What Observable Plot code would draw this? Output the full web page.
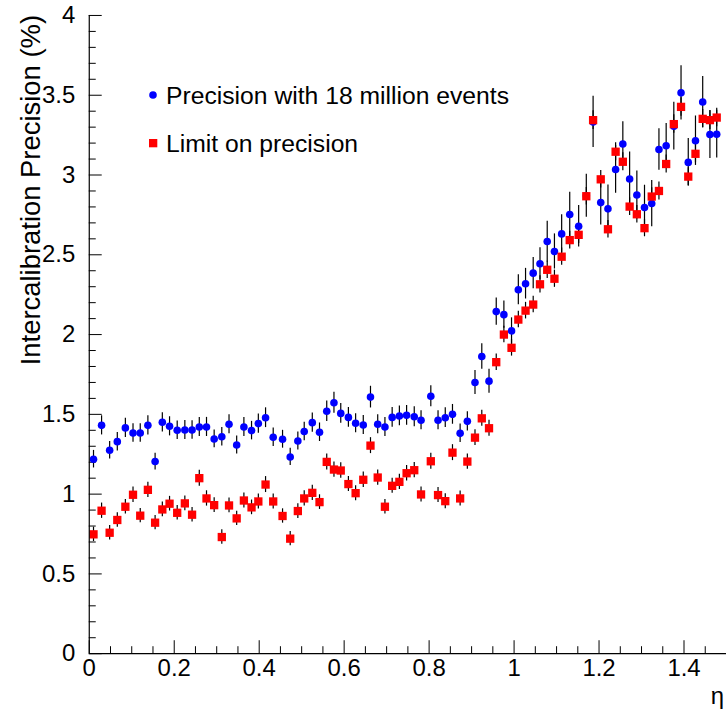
<!DOCTYPE html>
<html><head><meta charset="utf-8">
<script src="https://cdn.jsdelivr.net/npm/d3@7"></script>
<script src="https://cdn.jsdelivr.net/npm/@observablehq/plot@0.6"></script>
<style>
html,body{margin:0;padding:0;background:#fff;overflow:hidden}
#wrap{position:relative;width:726px;height:711px;overflow:hidden}
.leg{position:absolute;font-family:"Liberation Sans",Arial,sans-serif;font-size:24.7px;color:#000;white-space:nowrap;line-height:1}
.leg svg{position:absolute;left:0;top:0}
</style></head><body><div id="wrap"></div>
<script>
// pseudorapidity of each crystal ring
const eta = [
0.010,0.029,0.048,0.066,0.085,0.103,0.120,0.138,0.155,0.172,
0.189,0.207,0.225,0.242,0.259,0.276,0.294,0.312,0.329,0.347,
0.364,0.382,0.398,0.415,0.433,0.455,0.473,0.491,0.506,0.525,
0.542,0.559,0.576,0.592,0.610,0.627,0.645,0.662,0.679,0.696,
0.713,0.730,0.747,0.765,0.781,0.804,0.821,0.838,0.855,0.873,
0.890,0.908,0.924,0.941,0.958,0.976,0.994,1.010,1.027,1.045,
1.061,1.078,1.095,1.112,1.131,1.152,1.170,1.186,1.204,1.221,
1.239,1.256,1.272,1.289,1.307,1.324,1.341,1.358,1.376,1.393,
1.410,1.427,1.444,1.461,1.477];
// Precision with 18 million events (%)
const precision = [
1.219,1.431,1.275,1.329,1.415,1.383,1.383,1.431,1.204,1.450,
1.425,1.400,1.402,1.402,1.421,1.421,1.346,1.360,1.438,1.308,
1.421,1.398,1.442,1.479,1.356,1.344,1.233,1.333,1.392,1.448,
1.388,1.519,1.573,1.506,1.481,1.444,1.433,1.608,1.438,1.421,
1.481,1.490,1.494,1.485,1.463,1.613,1.463,1.479,1.500,1.381,
1.456,1.700,1.863,1.708,2.144,2.125,2.023,2.281,2.319,2.385,
2.444,2.583,2.521,2.631,2.752,2.679,2.870,3.333,2.827,2.788,
3.035,3.194,2.975,2.875,2.796,2.821,3.160,3.183,3.306,3.515,
3.079,3.215,3.458,3.254,3.256];
const precisionErr = [
0.055,0.060,0.055,0.058,0.060,0.058,0.058,0.060,0.052,0.060,
0.060,0.058,0.060,0.058,0.060,0.060,0.056,0.058,0.060,0.056,
0.060,0.058,0.060,0.062,0.058,0.056,0.054,0.056,0.058,0.060,
0.058,0.064,0.066,0.062,0.062,0.060,0.060,0.068,0.060,0.060,
0.062,0.062,0.062,0.062,0.060,0.066,0.060,0.062,0.062,0.058,
0.060,0.075,0.080,0.075,0.085,0.085,0.082,0.094,0.096,0.098,
0.100,0.128,0.110,0.120,0.140,0.130,0.135,0.160,0.140,0.150,
0.150,0.140,0.170,0.150,0.140,0.145,0.130,0.140,0.150,0.170,
0.150,0.155,0.160,0.150,0.150];
// Limit on precision (%)
const limit = [
0.748,0.896,0.758,0.838,0.921,0.996,0.865,1.027,0.821,0.904,
0.940,0.883,0.942,0.871,1.100,0.973,0.931,0.731,0.929,0.848,
0.960,0.917,0.954,1.060,0.954,0.863,0.721,0.894,0.973,1.008,
0.950,1.202,1.154,1.148,1.063,1.006,1.090,1.304,1.104,0.921,
1.052,1.077,1.131,1.150,0.998,1.206,0.994,0.956,1.260,0.973,
1.204,1.354,1.475,1.413,1.827,2.000,1.917,2.094,2.150,2.188,
2.315,2.406,2.350,2.488,2.592,2.625,2.867,3.344,2.973,2.660,
3.146,3.083,2.802,2.754,2.667,2.865,2.900,3.069,3.319,3.427,
2.990,3.133,3.352,3.344,3.360];
const limitErr = [
0.045,0.048,0.045,0.045,0.046,0.048,0.045,0.048,0.045,0.046,
0.046,0.045,0.046,0.045,0.050,0.048,0.046,0.045,0.046,0.045,
0.047,0.046,0.047,0.050,0.047,0.045,0.045,0.046,0.048,0.048,
0.046,0.050,0.048,0.048,0.047,0.047,0.048,0.050,0.048,0.046,
0.047,0.048,0.048,0.048,0.047,0.050,0.047,0.047,0.050,0.047,
0.048,0.050,0.050,0.050,0.052,0.052,0.052,0.052,0.052,0.052,
0.054,0.054,0.054,0.054,0.055,0.055,0.055,0.058,0.055,0.055,
0.056,0.056,0.055,0.055,0.054,0.055,0.056,0.056,0.058,0.058,
0.056,0.057,0.058,0.058,0.058];
const xMajorTicks = [0,0.2,0.4,0.6,0.8,1,1.2,1.4];
const xMinorTicks = [0.05,0.1,0.15,0.25,0.3,0.35,0.45,0.5,0.55,0.65,0.7,0.75,0.85,0.9,0.95,1.05,1.1,1.15,1.25,1.3,1.35,1.45];
const yMajorTicks = [0,0.5,1,1.5,2,2.5,3,3.5,4];
const yMinorTicks = [0.1,0.2,0.3,0.4,0.6,0.7,0.8,0.9,1.1,1.2,1.3,1.4,1.6,1.7,1.8,1.9,2.1,2.2,2.3,2.4,2.6,2.7,2.8,2.9,3.1,3.2,3.3,3.4,3.6,3.7,3.8,3.9];
const seriesNames = ["Precision with 18 million events","Limit on precision"];
const xTitle = "η";
const yTitle = "Intercalibration Precision (%)";

const blue = eta.map((e,i)=>({eta:e, v:precision[i], err:precisionErr[i]}));
const red = eta.map((e,i)=>({eta:e, v:limit[i], err:limitErr[i]}));
const font = '"Liberation Sans", Arial, Helvetica, sans-serif';

const chart = Plot.plot({
  width: 728, height: 711,
  marginLeft: 89, marginRight: 0, marginTop: 15, marginBottom: 56,
  style: {fontFamily: font, fontSize: "24px", background: "white", overflow: "visible"},
  x: {domain: [0, 1.5]},
  y: {domain: [0, 4]},
  marks: [
    Plot.axisX({ticks: xMinorTicks, tickSize: -7, tickFormat: () => "", label: null}),
    Plot.axisX({ticks: xMajorTicks, tickSize: -13, tickFormat: () => "", label: null}),
    Plot.axisX({ticks: xMajorTicks, tickSize: 0, tickPadding: 5, tickFormat: d => String(d), label: null, fontSize: 24}),
    Plot.axisY({ticks: yMinorTicks, tickSize: -7, tickFormat: () => "", label: null}),
    Plot.axisY({ticks: yMajorTicks, tickSize: -13, tickFormat: () => "", label: null}),
    Plot.axisY({ticks: yMajorTicks, tickSize: 0, tickPadding: 14, tickFormat: d => String(d), label: null, fontSize: 24}),
    Plot.ruleX(blue, {x: "eta", y1: d => d.v - d.err, y2: d => d.v + d.err, stroke: "#000", strokeWidth: 1.2}),
    Plot.ruleX(red, {x: "eta", y1: d => d.v - d.err, y2: d => d.v + d.err, stroke: "#000", strokeWidth: 1.2}),
    Plot.dot(blue, {x: "eta", y: "v", r: 3.8, fill: "#0000ff"}),
    Plot.dot(red, {x: "eta", y: "v", symbol: "square", r: 4.7, fill: "#ff0000"}),
    Plot.ruleX([0], {stroke: "#000", strokeWidth: 1.2}),
    Plot.ruleY([0], {stroke: "#000", strokeWidth: 1.2})
  ]
});

const svg = d3.select(chart);
svg.append("text")
  .attr("transform", "translate(40,15) rotate(-90)")
  .attr("text-anchor", "end")
  .attr("font-family", font)
  .attr("font-size", 27.5)
  .attr("fill", "#000")
  .text(yTitle);
svg.append("text")
  .attr("x", 726).attr("y", 706)
  .attr("text-anchor", "end")
  .attr("font-family", font)
  .attr("font-size", 24)
  .attr("fill", "#000")
  .text(xTitle);

const wrap = document.getElementById("wrap");
wrap.appendChild(chart);

function legendItem(top, name, shape) {
  const d = document.createElement("div");
  d.className = "leg";
  d.style.left = "146px";
  d.style.top = top + "px";
  d.innerHTML = `<svg width="16" height="24" viewBox="0 0 16 24">${shape}</svg><span style="position:absolute;left:20px;top:0">${name}</span>`;
  wrap.appendChild(d);
}
legendItem(84, seriesNames[0], '<circle cx="7" cy="11" r="3.8" fill="#0000ff"/>');
legendItem(132, seriesNames[1], '<rect x="3" y="7" width="8.3" height="8.3" fill="#ff0000"/>');
</script></body></html>
